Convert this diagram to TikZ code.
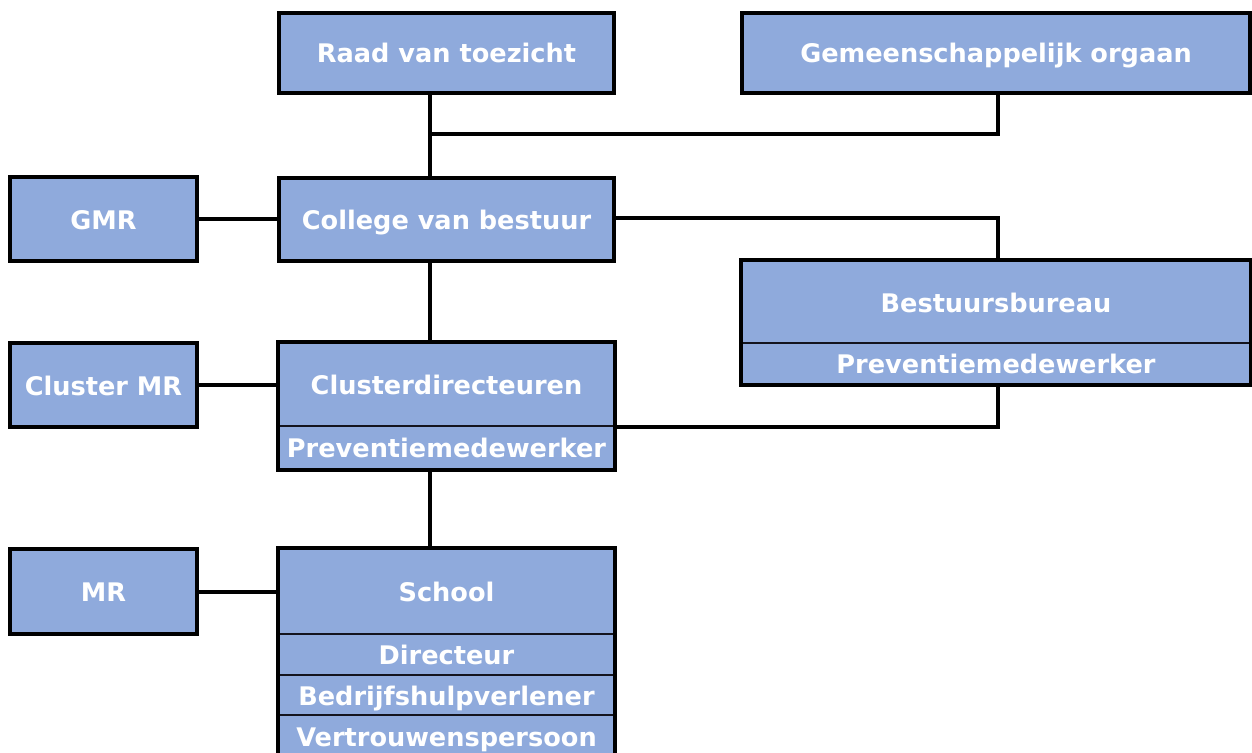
\documentclass[tikz,border=0pt]{standalone}
\usepackage{fontspec}
\setmainfont{DejaVu Sans}[BoldFont=DejaVu Sans Bold]
\definecolor{boxblue}{RGB}{143,170,220}
\definecolor{divider}{RGB}{20,20,30}
\newcommand{\boxfont}{\fontsize{25.6}{30}\selectfont\bfseries}
\tikzset{
  box/.style={draw=black, line width=4pt, fill=boxblue, text=white, font=\boxfont, inner sep=0pt, align=center, text height=20pt, text depth=0pt},
  part/.style={draw=divider, line width=2.5pt, fill=boxblue, text=white, font=\boxfont, inner sep=0pt, align=center, text height=20pt, text depth=0pt},
  frame/.style={draw=black, line width=4pt},
  link/.style={draw=black, line width=4pt},
  wide/.style={minimum width=335},
  wider/.style={minimum width=508},
  narrow/.style={minimum width=187}
}
\begin{document}
\begin{tikzpicture}[x=1pt,y=-1pt]
\useasboundingbox (0,0) rectangle (1252,752);
\clip (0,0) rectangle (1252,752);
\fill[white] (0,0) rectangle (1252,752);
\coordinate (spine) at (430,0);
\coordinate (rspine) at (998,0);
\coordinate (j1) at (430,134);
% top row
\node[box, wide, minimum height=80] (raad) at (446.5,53) {Raad van toezicht};
\node[box, wider, minimum height=80] (gem) at (996,53) {Gemeenschappelijk orgaan};
% second row
\node[box, narrow, minimum height=84] (gmr) at (103.5,219) {GMR};
\node[box, wide, minimum height=83] (college) at (446.5,219.5) {College van bestuur};
% Bestuursbureau
\node[part, wider, minimum height=82] (bb) at (996,302) {Bestuursbureau};
\node[part, wider, minimum height=41] (bbsub) at (996,363.5) {Preventiemedewerker};
\draw[frame] (bb.north west) rectangle (bbsub.south east);
% Clusterdirecteuren
\node[box, narrow, minimum height=84] (cmr) at (103.5,385) {Cluster MR};
\node[part, wide, minimum height=83] (cd) at (446.5,384.5) {Clusterdirecteuren};
\node[part, wide, minimum height=43] (cdsub) at (446.5,447.5) {Preventiemedewerker};
\draw[frame] (cd.north west) rectangle (cdsub.south east);
% School
\node[box, narrow, minimum height=85] (mr) at (103.5,591.5) {MR};
\node[part, wide, minimum height=85] (school) at (446.5,591.5) {School};
\node[part, wide, minimum height=41] (dir) at (446.5,654.5) {Directeur};
\node[part, wide, minimum height=40] (bhv) at (446.5,695) {Bedrijfshulpverlener};
\node[part, wide, minimum height=42] (vp) at (446.5,736) {Vertrouwenspersoon};
\draw[frame] (school.north west) rectangle (vp.south east);
% connectors
\draw[link] (raad.south -| spine) -- (college.north -| spine);
\draw[link] (j1) -| (gem.south -| rspine);
\draw[link] (gmr.east) -- (gmr.east -| college.west);
\draw[link] ([yshift=1.5pt]college.east) -| (bb.north -| rspine);
\draw[link] (college.south -| spine) -- (cd.north -| spine);
\draw[link] (cmr.east) -- (cmr.east -| cd.west);
\draw[link] (cd.south east) -| (bbsub.south -| rspine);
\draw[link] (cdsub.south -| spine) -- (school.north -| spine);
\draw[link] (mr.east) -- (mr.east -| school.west);
\end{tikzpicture}
\end{document}
